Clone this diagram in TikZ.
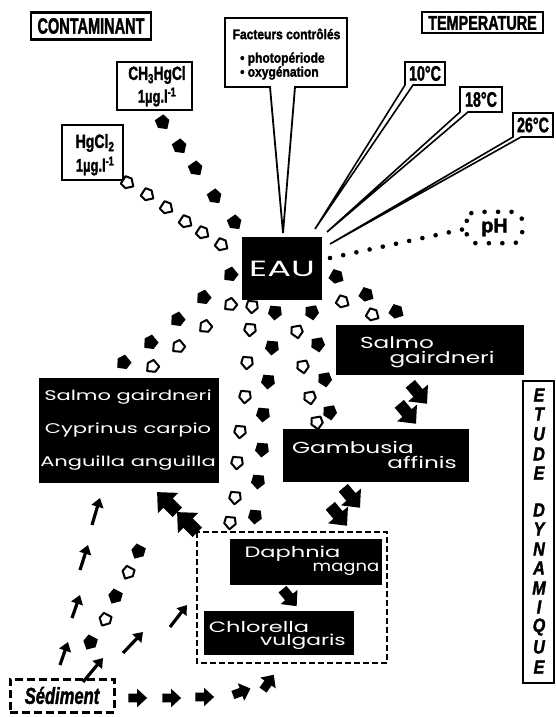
\documentclass[tikz,border=0pt]{standalone}
\usepackage{fontspec}
\setmainfont{Liberation Sans}
\newfontfamily\heavy{Liberation Sans}[BoldFeatures={FakeBold=2}, BoldItalicFeatures={FakeBold=2}]
\newfontfamily\geo{Poppins}
\usetikzlibrary{arrows.meta}
\tikzset{
  lbox/.style={draw, line width=2pt, fill=white, inner sep=0pt},
  bbox/.style={fill=black, inner sep=0pt},
  wtxt/.style={text=white, inner sep=0pt},
  ctxt/.style={inner sep=0pt},
  callout/.style={draw, line width=1.6pt, fill=white, line join=miter},
  thinarrow/.style={line width=3.2pt, -{Triangle[length=9pt,width=12pt]}},
  pfill/.pic={\fill[scale=1.15] (6.5,0) -- (1,6) -- (-6,4.5) -- (-6,-4.5) -- (1,-6) -- cycle;},
  popen/.pic={\draw[scale=1.15, line width=2pt, fill=white, line join=round] (5.5,0) -- (0.5,5) -- (-5,3.8) -- (-5,-3.8) -- (0.5,-5) -- cycle;},
  bigarrow/.pic={\fill (14,0) -- (0,13) -- (0,6) -- (-12,6) -- (-12,-6) -- (0,-6) -- (0,-13) -- cycle;},
}
\newcommand\cf[2]{\heavy\fontsize{#1}{#1}\selectfont\bfseries\scalebox{#2}[1]}
\newcommand\gf[2]{\geo\fontsize{#1}{#1}\selectfont\scalebox{#2}[1]}
\begin{document}
\begin{tikzpicture}[x=1pt,y=-1pt]
\useasboundingbox[fill=white] (0,0) rectangle (556,717);

% ---------- top labels ----------
\node[lbox, line width=2.3pt, minimum width=120pt, minimum height=27pt] (cont) at (91,26) {\cf{22}{0.66}{CONTAMINANT}};
\node[lbox, minimum width=121pt, minimum height=21pt] (temp) at (482.5,23) {\cf{20}{0.72}{TEMPERATURE}};

\node[lbox, minimum width=75pt, minimum height=48pt] (ch3) at (154.5,86) {};
\node[ctxt] (ch3a) at (157,75) {\cf{19}{0.72}{CH\textsubscript{3}HgCl}};
\node[ctxt] (ch3b) at (157,97) {\cf{18}{0.72}{1µg.l\textsuperscript{-1}}};

\node[lbox, minimum width=61pt, minimum height=55pt] (hg) at (92.5,152.5) {};
\node[ctxt] (hga) at (95,143) {\cf{19}{0.74}{HgCl\textsubscript{2}}};
\node[ctxt] (hgb) at (95,166) {\cf{18}{0.72}{1µg.l\textsuperscript{-1}}};

% Facteurs controles callout
\draw[callout, line width=1.8pt] (225,18) -- (347,18) -- (347,87) -- (295,87) -- (283,233) -- (270,87) -- (225,87) -- cycle;
\node[ctxt] (fac) at (286.5,34) {\cf{14}{0.86}{Facteurs contrôlés}};
\node[ctxt, anchor=west] (fac1) at (240,59) {\cf{14}{0.86}{• photopériode}};
\node[ctxt, anchor=west] (fac2) at (240,73) {\cf{14}{0.86}{• oxygénation}};

% temperature callouts
\draw[callout] (405,62) -- (445,62) -- (445,85) -- (413,85) -- (315,229) -- (405,85) -- cycle;
\node[ctxt] (t10) at (425,73.5) {\cf{21}{0.68}{10°C}};
\draw[callout] (460,87) -- (502,87) -- (502,112) -- (468,112) -- (327,232) -- (460,112) -- cycle;
\node[ctxt] (t18) at (481,99.5) {\cf{21}{0.68}{18°C}};
\draw[callout] (513,113) -- (553,113) -- (553,137) -- (521,137) -- (330,244) -- (513,137) -- cycle;
\node[ctxt] (t26) at (533,125) {\cf{21}{0.68}{26°C}};

% ---------- EAU ----------
\node[bbox, minimum width=80pt, minimum height=63pt] (eau) at (282,268.5) {};
\node[wtxt] (eautxt) at (282,269) {\gf{22}{1.6}{EAU}};

% pH
\node[inner sep=0pt, minimum width=55pt, minimum height=31pt] (ph) at (494.5,227.5) {\heavy\fontsize{20}{20}\selectfont\bfseries pH};
\draw[line width=4.6pt, line cap=round, dash pattern=on 0pt off 13.5pt, rounded corners=9pt] (ph.north west) rectangle (ph.south east);
\coordinate (phin) at (ph.west);
\coordinate (eauout) at (330,258);
\draw[line width=4.6pt, line cap=round, dash pattern=on 0pt off 13.5pt] (eauout) -- ([yshift=-1pt]phin);

% ---------- species boxes ----------
\node[bbox, minimum width=188pt, minimum height=50pt] (salr) at (430,350) {};
\node[wtxt] (salr1) at (397,343) {\gf{16}{1.45}{Salmo}};
\node[wtxt] (salr2) at (442,360) {\gf{16}{1.45}{gairdneri}};

\node[bbox, minimum width=180pt, minimum height=105pt] (fish) at (129,430.5) {};
\node[wtxt] (fish1) at (128,397) {\gf{14}{1.5}{Salmo gairdneri}};
\node[wtxt] (fish2) at (128,430) {\gf{14}{1.5}{Cyprinus carpio}};
\node[wtxt] (fish3) at (128,463) {\gf{14}{1.5}{Anguilla anguilla}};

\node[bbox, minimum width=186pt, minimum height=53pt] (gam) at (376,455.5) {};
\node[wtxt] (gam1) at (353,447) {\gf{16}{1.45}{Gambusia}};
\node[wtxt] (gam2) at (422,462) {\gf{16}{1.45}{affinis}};

\draw[line width=2pt, dash pattern=on 6pt off 3pt] (197,532) rectangle (387,663);
\node[bbox, minimum width=152pt, minimum height=46pt] (daph) at (306,562) {};
\node[wtxt] (daph1) at (292.5,554) {\gf{15}{1.5}{Daphnia}};
\node[wtxt] (daph2) at (346,569) {\gf{15}{1.2}{magna}};

\node[bbox, minimum width=150pt, minimum height=44pt] (chl) at (279,633) {};
\node[wtxt] (chl1) at (259,627) {\gf{15}{1.5}{Chlorella}};
\node[wtxt] (chl2) at (303,642) {\gf{15}{1.45}{vulgaris}};

% Sediment
\node[draw, line width=3pt, dash pattern=on 8pt off 4pt, minimum width=104pt, minimum height=33pt, inner sep=0pt] (sed) at (62,695.5) {\heavy\fontsize{23}{23}\selectfont\bfseries\itshape\scalebox{0.72}[1]{Sédiment}};

% ETUDE DYNAMIQUE
\node[draw, line width=2pt, minimum width=31pt, minimum height=302pt, inner sep=0pt] (etude) at (538.5,532) {};
\foreach \l/\yy in {E/395,T/414,U/434,D/454,E/473,D/510,Y/529,N/549,A/568,M/588,I/607,Q/627,U/647,E/667}
  \node[inner sep=0pt] at (539,\yy) {\heavy\fontsize{19}{19}\selectfont\bfseries\itshape\scalebox{0.85}[1]{\l}};

% ---------- small pentagon streams ----------
\foreach \x/\y in {163/123,180/147,196/169,215/197,235/223}
  \pic[rotate=-55] at (\x,\y) {pfill};
\foreach \x/\y in {128/183,148/195,167/208,186/222,203/233,222/245}
  \pic[rotate=-33] at (\x,\y) {popen};
\foreach \x/\y in {230/275,203/298,177/320,150/343,123/363}
  \pic[rotate=220] at (\x,\y) {pfill};
\foreach \x/\y in {230/305,205/327,178/347,152/367}
  \pic[rotate=220] at (\x,\y) {popen};
\foreach \x/\y in {252/307,250/330,247/363,245/397,240/432,237/463,235/498,230/523}
  \pic[rotate=-95] at (\x,\y) {popen};
\foreach \x/\y in {275/313,272/348,268/382,263/415,262/450,258/482,255/517}
  \pic[rotate=-95] at (\x,\y) {pfill};
\foreach \x/\y in {297/332,303/367,310/398,317/423}
  \pic[rotate=-80] at (\x,\y) {popen};
\foreach \x/\y in {312/313,318/345,325/380,330/413}
  \pic[rotate=-80] at (\x,\y) {pfill};
\foreach \x/\y in {337/277,367/295,397/312}
  \pic[rotate=-30] at (\x,\y) {pfill};
\foreach \x/\y in {343/302,373/315}
  \pic[rotate=-30] at (\x,\y) {popen};
\foreach \x/\y in {138/552,115/597,90/643}
  \pic[rotate=-118] at (\x,\y) {pfill};
\foreach \x/\y in {128/573,105/620}
  \pic[rotate=-118] at (\x,\y) {popen};

% ---------- trophic block arrows ----------
\pic[rotate=-50] at (418,393) {bigarrow};
\pic[rotate=-50] at (407,413) {bigarrow};
\pic[rotate=-50] at (351,497) {bigarrow};
\pic[rotate=-50] at (338,515) {bigarrow};
\pic[rotate=-50, scale=0.85] at (289,597) {bigarrow};
\pic[rotate=135, scale=1.1] at (168,503) {bigarrow};
\pic[rotate=135, scale=1.1] at (188,523) {bigarrow};

\pic[scale=0.72] at (137,698) {bigarrow};
\pic[scale=0.72] at (171,698) {bigarrow};
\pic[scale=0.72] at (204,697) {bigarrow};
\pic[rotate=20, scale=0.72] at (241,692) {bigarrow};
\pic[rotate=55, scale=0.72] at (268,683) {bigarrow};

\coordinate (u1a) at (92,525);  \coordinate (u1b) at (100,498);
\coordinate (u2a) at (80,570);  \coordinate (u2b) at (88,545);
\coordinate (u3a) at (72,618);  \coordinate (u3b) at (80,595);
\coordinate (u4a) at (60,665);  \coordinate (u4b) at (68,642);
\coordinate (r1a) at (83,682);  \coordinate (r1b) at (103,658);
\coordinate (r2a) at (123,653); \coordinate (r2b) at (143,632);
\coordinate (r3a) at (170,627); \coordinate (r3b) at (187,605);
\foreach \p in {u1,u2,u3,u4,r1,r2,r3}
  \draw[thinarrow] (\p a) -- (\p b);
\end{tikzpicture}
\end{document}
